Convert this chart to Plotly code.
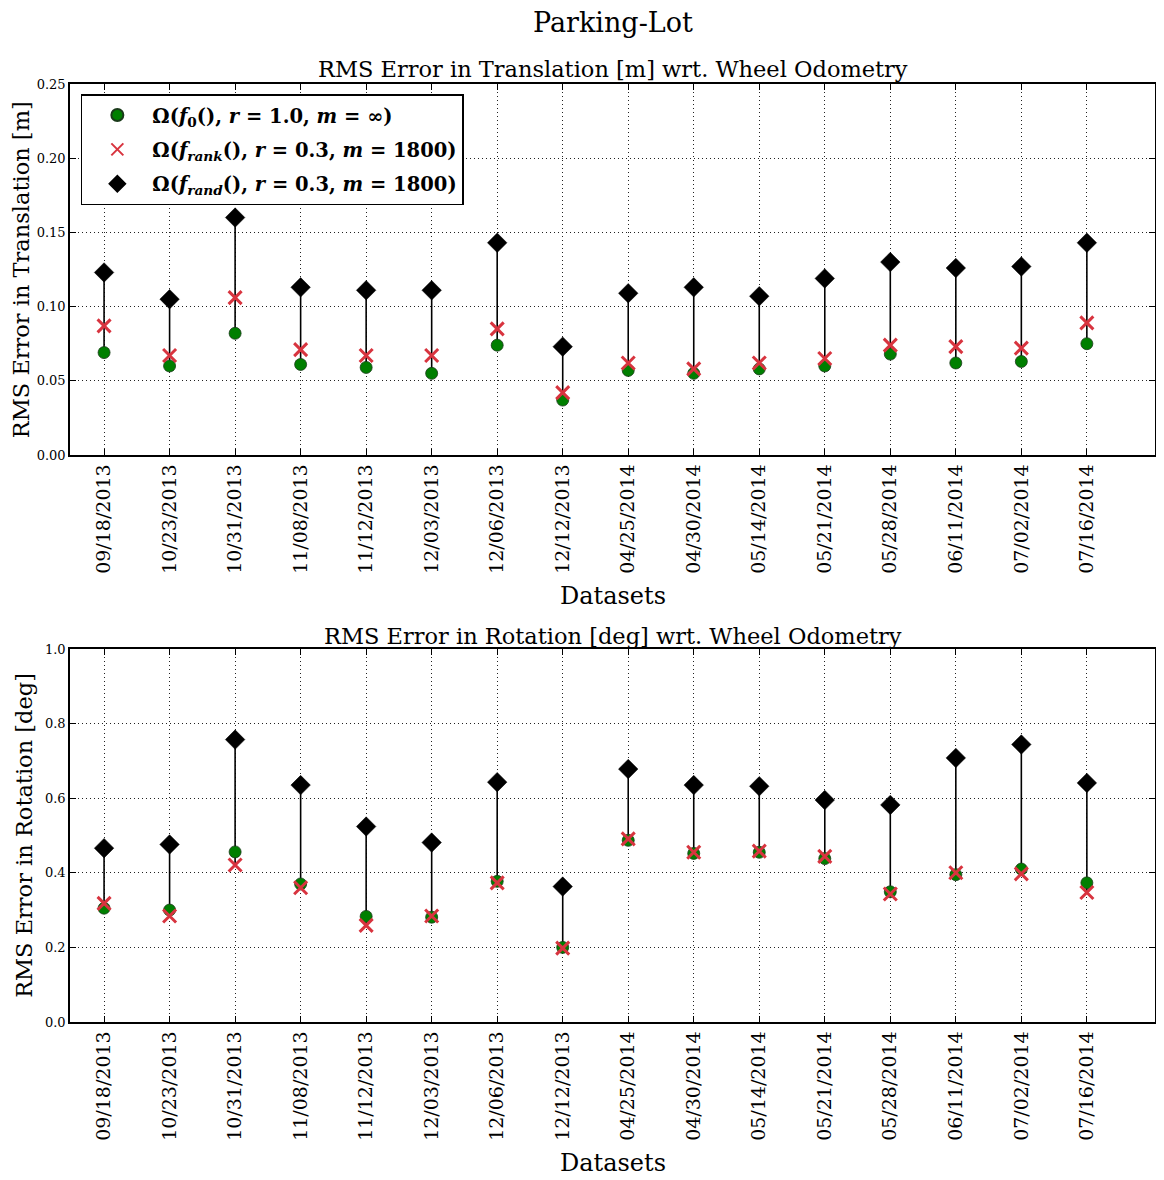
import plotly.graph_objects as go

# ── data ─────────────────────────────────────────────────────────
datasets = ['09/18/2013', '10/23/2013', '10/31/2013', '11/08/2013',
            '11/12/2013', '12/03/2013', '12/06/2013', '12/12/2013',
            '04/25/2014', '04/30/2014', '05/14/2014', '05/21/2014',
            '05/28/2014', '06/11/2014', '07/02/2014', '07/16/2014']

trans_f0 = [0.069, 0.060, 0.082, 0.061, 0.059, 0.055, 0.074, 0.037,
            0.057, 0.055, 0.058, 0.060, 0.068, 0.062, 0.063, 0.075]
trans_rank = [0.087, 0.067, 0.106, 0.071, 0.067, 0.067, 0.085, 0.042,
              0.062, 0.058, 0.062, 0.065, 0.074, 0.073, 0.072, 0.089]
trans_rand = [0.123, 0.105, 0.160, 0.113, 0.111, 0.111, 0.143, 0.073,
              0.109, 0.113, 0.107, 0.119, 0.130, 0.126, 0.127, 0.143]

rot_f0 = [0.305, 0.300, 0.456, 0.370, 0.283, 0.281, 0.377, 0.200,
          0.487, 0.452, 0.455, 0.438, 0.349, 0.395, 0.410, 0.373]
rot_rank = [0.318, 0.284, 0.421, 0.360, 0.259, 0.284, 0.373, 0.198,
            0.491, 0.455, 0.458, 0.444, 0.343, 0.400, 0.397, 0.347]
rot_rand = [0.466, 0.476, 0.757, 0.635, 0.524, 0.481, 0.643, 0.363,
            0.678, 0.635, 0.632, 0.595, 0.582, 0.708, 0.744, 0.641]

names = ['<b>Ω(<i>f</i><sub>0</sub>(), <i>r</i> = 1.0, <i>m</i> = ∞)</b>',
         '<b>Ω(<i>f</i><sub><i>rank</i></sub>(), <i>r</i> = 0.3, <i>m</i> = 1800)</b>',
         '<b>Ω(<i>f</i><sub><i>rand</i></sub>(), <i>r</i> = 0.3, <i>m</i> = 1800)</b>']

FONT = 'DejaVu Serif'
GREEN = '#007f00'
RED = '#d8343f'

fig = go.Figure()


def add_panel(f0, rank, rand, xa, ya, legend):
    idx = list(range(len(datasets)))
    # vertical min-max lines
    lx, ly = [], []
    for i in idx:
        vals = [f0[i], rank[i], rand[i]]
        lx += [i, i, None]
        ly += [min(vals), max(vals), None]
    fig.add_trace(go.Scatter(x=lx, y=ly, mode='lines',
                             line=dict(color='black', width=1.6),
                             showlegend=False, hoverinfo='skip',
                             xaxis=xa, yaxis=ya))
    fig.add_trace(go.Scatter(x=idx, y=f0, mode='markers', name=names[0],
                             legendgroup='f0',
                             marker=dict(symbol='circle', size=12, color=GREEN,
                                         line=dict(color='#1a3a1a', width=0.8)),
                             showlegend=legend, xaxis=xa, yaxis=ya))
    fig.add_trace(go.Scatter(x=idx, y=rank, mode='markers', name=names[1],
                             legendgroup='rank',
                             marker=dict(symbol='x-thin', size=13, color=RED,
                                         line=dict(color=RED, width=3)),
                             showlegend=legend, xaxis=xa, yaxis=ya))
    fig.add_trace(go.Scatter(x=idx, y=rand, mode='markers', name=names[2],
                             legendgroup='rand',
                             marker=dict(symbol='diamond', size=15, color='black',
                                         line=dict(color='black', width=0.5)),
                             showlegend=legend, xaxis=xa, yaxis=ya))


add_panel(trans_f0, trans_rank, trans_rand, 'x', 'y', True)
add_panel(rot_f0, rot_rank, rot_rand, 'x2', 'y2', False)

grid = dict(showgrid=True, gridcolor='#222222', griddash='1px,3px', gridwidth=1,
            showline=True, linecolor='black', linewidth=1.5, mirror='ticks',
            ticks='inside', ticklen=6, tickcolor='black', zeroline=False)
xcommon = dict(range=[-0.52, 16.04], tickmode='array',
               tickvals=list(range(len(datasets))), ticktext=datasets,
               tickangle=-90, tickfont=dict(family=FONT, size=19, color='black'),
               **grid)
ycommon = dict(tickfont=dict(family=FONT, size=13, color='black'), **grid)

# page body adds an 8px offset, so the figure is 8px smaller on each side
fig.update_layout(
    width=1156, height=1172,
    margin=dict(l=62, r=7, t=76, b=158),
    paper_bgcolor='white', plot_bgcolor='white',
    font=dict(family=FONT, color='black'),
    xaxis=dict(domain=[0, 1], anchor='y', **xcommon),
    yaxis=dict(domain=[0.6045, 1], anchor='x', range=[0, 0.25], dtick=0.05,
               tickformat='.2f', **ycommon),
    xaxis2=dict(domain=[0, 1], anchor='y2', **xcommon),
    yaxis2=dict(domain=[0, 0.3977], anchor='x2', range=[0, 1.0], dtick=0.2,
                tickformat='.1f', **ycommon),
    legend=dict(x=0.01, y=0.989, xanchor='left', yanchor='top',
                bgcolor='white', bordercolor='black', borderwidth=1.5,
                font=dict(family=FONT, size=19.5, color='black'),
                itemsizing='constant', itemwidth=60, tracegroupgap=6),
    showlegend=True,
)

anns = [
    dict(text='Parking-Lot', x=0.5, y=1.066, size=27),
    dict(text='RMS Error in Translation [m] wrt. Wheel Odometry', x=0.5, y=1.016, size=22.5),
    dict(text='RMS Error in Rotation [deg] wrt. Wheel Odometry', x=0.5, y=0.4115, size=22.5),
    dict(text='Datasets', x=0.5, y=0.454, size=24),
    dict(text='Datasets', x=0.5, y=-0.150, size=24),
]
for a in anns:
    fig.add_annotation(text=a['text'], x=a['x'], y=a['y'], xref='paper', yref='paper',
                       xanchor='center', yanchor='middle', showarrow=False,
                       font=dict(family=FONT, size=a['size'], color='black'))

fig.add_annotation(text='RMS Error in Translation [m]', x=-0.0455, y=0.8022,
                   xref='paper', yref='paper', textangle=-90, showarrow=False,
                   xanchor='center', yanchor='middle',
                   font=dict(family=FONT, size=22.5, color='black'))
fig.add_annotation(text='RMS Error in Rotation [deg]', x=-0.043, y=0.1988,
                   xref='paper', yref='paper', textangle=-90, showarrow=False,
                   xanchor='center', yanchor='middle',
                   font=dict(family=FONT, size=22.5, color='black'))

fig.write_html('out.html')
